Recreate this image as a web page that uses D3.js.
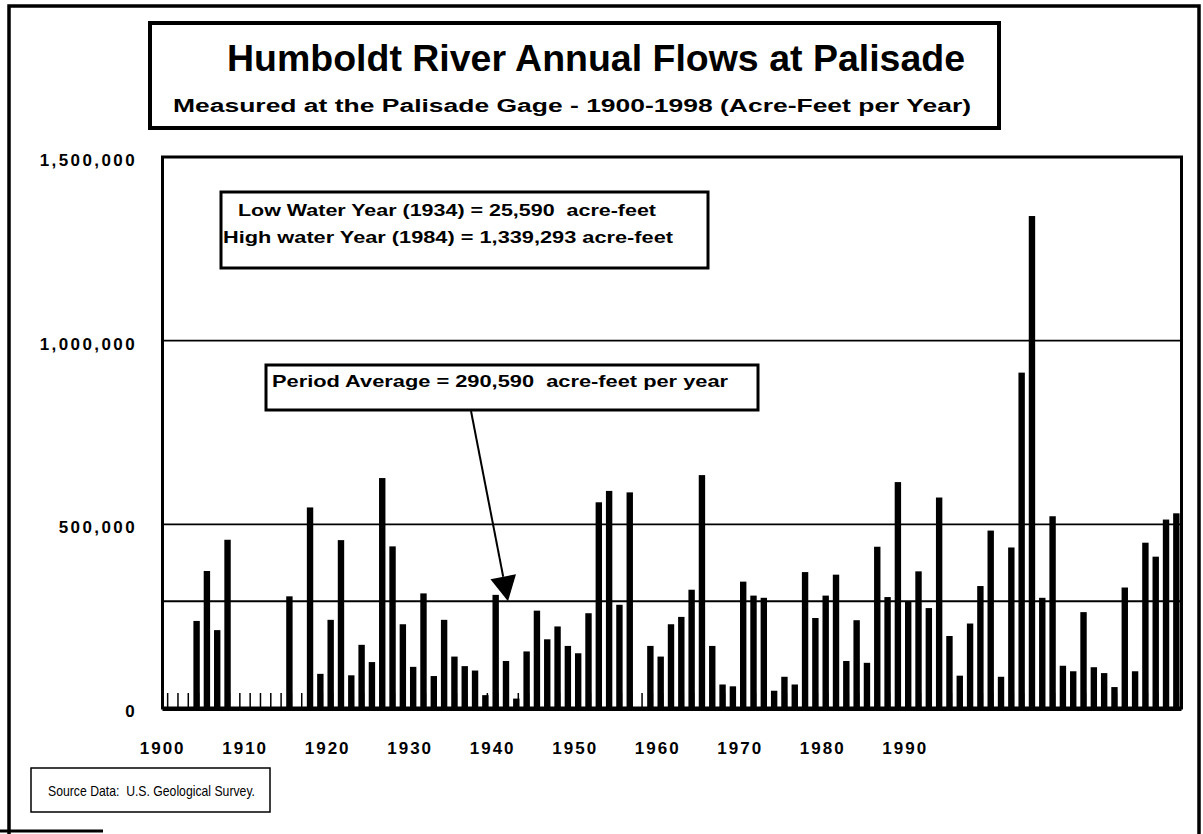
<!DOCTYPE html>
<html>
<head>
<meta charset="utf-8">
<script src="https://cdn.jsdelivr.net/npm/d3@7"></script>
<style>
  body { margin: 0; background: #fff; }
  svg { display: block; font-family: "Liberation Sans", Arial, sans-serif; }
  text { white-space: pre; }
</style>
</head>
<body>
<svg id="chart" width="1203" height="834"></svg>
<script>
// annual flow at Palisade gage, acre-feet (null = no record)
const years = d3.range(1900, 1999);
const flows = [
  null, null, null, 237000, 373000, 212000, 458000, null, null, null,
  null, null, 304000, null, 546000, 93000, 240000, 457000, 89000, 172000,
  125000, 626000, 440000, 228000, 112000, 312000, 87000, 240000, 140000, 114000,
  102000, 35000, 308000, 128000, 25590, 154000, 265000, 187000, 222000, 169000,
  149000, 258000, 560000, 591000, 281000, 587000, null, 169000, 140000, 228000,
  248000, 322000, 634000, 169000, 64000, 59000, 344000, 306000, 300000, 47000,
  85000, 64000, 370000, 245000, 306000, 363000, 128000, 239000, 123000, 439000,
  302000, 615000, 290000, 372000, 272000, 573000, 196000, 88000, 230000, 332000,
  483000, 85000, 437000, 913000, 1339293, 300000, 522000, 115000, 100000, 261000,
  111000, 95000, 57000, 328000, 100000, 450000, 412000, 513000, 530000
];
const avgFlow = 290590;
const flowTicks = [0, 500000, 1000000, 1500000];
const gridTicks = [500000, 1000000];
// the original axis prints a label every 8th category, captioned by decade
const yearLabels = [1900, 1910, 1920, 1930, 1940, 1950, 1960, 1970, 1980, 1990];
const labelEvery = 8;

const titleText = 'Humboldt River Annual Flows at Palisade';
const subtitleText = 'Measured at the Palisade Gage - 1900-1998 (Acre-Feet per Year)';
const extremesText = ['Low Water Year (1934) = 25,590  acre-feet', 'High water Year (1984) = 1,339,293 acre-feet'];
const averageText = 'Period Average = 290,590  acre-feet per year';
const sourceText = 'Source Data:  U.S. Geological Survey.';

const svg = d3.select('#chart');
const plot = { left: 162.5, right: 1181.5, top: 157, bottom: 708 };

const x = d3.scaleBand()
  .domain(years)
  .range([160.5, 1181.5])
  .paddingInner(0.38)
  .paddingOuter(0.19);
const y = d3.scaleLinear()
  .domain([0, 1500000])
  .range([plot.bottom, plot.top]);

// outer frame (bottom edge mostly cut off in the scan)
svg.append('path')
  .attr('d', 'M9,834 V6 H1199 V834')
  .attr('fill', 'none').attr('stroke', '#000').attr('stroke-width', 3.5);
svg.append('line')
  .attr('x1', 0).attr('x2', 103).attr('y1', 831).attr('y2', 831)
  .attr('stroke', '#000').attr('stroke-width', 3);

// title box
svg.append('rect')
  .attr('x', 150).attr('y', 23).attr('width', 849).attr('height', 105)
  .attr('fill', '#fff').attr('stroke', '#000').attr('stroke-width', 4);
svg.append('text')
  .attr('x', 596).attr('y', 71)
  .attr('text-anchor', 'middle')
  .attr('font-size', 37).attr('font-weight', 'bold')
  .attr('textLength', 738).attr('lengthAdjust', 'spacingAndGlyphs')
  .text(titleText);
svg.append('text')
  .attr('x', 173).attr('y', 112)
  .attr('font-size', 18).attr('font-weight', 'bold')
  .attr('textLength', 798).attr('lengthAdjust', 'spacingAndGlyphs')
  .text(subtitleText);

// gridlines and average line
svg.append('g')
  .selectAll('line')
  .data(gridTicks)
  .enter()
  .append('line')
  .attr('x1', plot.left).attr('x2', plot.right)
  .attr('y1', d => y(d)).attr('y2', d => y(d))
  .attr('stroke', '#000').attr('stroke-width', 1.6);
svg.append('line')
  .attr('x1', plot.left).attr('x2', plot.right)
  .attr('y1', y(avgFlow)).attr('y2', y(avgFlow))
  .attr('stroke', '#000').attr('stroke-width', 2);

// category ticks, drawn under the bars
svg.append('g')
  .attr('transform', `translate(2,${plot.bottom})`)
  .call(d3.axisBottom(x).tickSizeInner(-15).tickSizeOuter(0).tickFormat(''))
  .call(g => g.select('.domain').remove())
  .call(g => g.selectAll('.tick line').attr('stroke-width', 1.5));

// bars
svg.append('g')
  .selectAll('rect')
  .data(years.map((yr, i) => ({ year: yr, flow: flows[i] })).filter(d => d.flow !== null))
  .enter()
  .append('rect')
  .attr('x', d => x(d.year))
  .attr('y', d => y(d.flow))
  .attr('width', x.bandwidth())
  .attr('height', d => plot.bottom - y(d.flow))
  .attr('fill', '#000');

// plot frame and baseline
svg.append('rect')
  .attr('x', plot.left).attr('y', plot.top)
  .attr('width', plot.right - plot.left).attr('height', plot.bottom - plot.top)
  .attr('fill', 'none').attr('stroke', '#000').attr('stroke-width', 3);
svg.append('line')
  .attr('x1', plot.left).attr('x2', plot.right)
  .attr('y1', plot.bottom + 1).attr('y2', plot.bottom + 1)
  .attr('stroke', '#000').attr('stroke-width', 4);

// y axis labels
svg.append('g')
  .selectAll('text')
  .data(flowTicks)
  .enter()
  .append('text')
  .attr('x', 137)
  .attr('y', d => y(d) + 9)
  .attr('text-anchor', 'end')
  .attr('font-size', 17).attr('font-weight', 'bold')
  .attr('letter-spacing', 2.4)
  .text(d => d3.format(',')(d));

// x axis labels
svg.append('g')
  .selectAll('text')
  .data(yearLabels)
  .enter()
  .append('text')
  .attr('x', (d, i) => x(years[i * labelEvery]) + x.bandwidth() / 2 - 3)
  .attr('y', 754)
  .attr('text-anchor', 'middle')
  .attr('font-size', 17).attr('font-weight', 'bold')
  .attr('letter-spacing', 2)
  .text(d => d);

// low / high water box
svg.append('rect')
  .attr('x', 221).attr('y', 192).attr('width', 487).attr('height', 76)
  .attr('fill', '#fff').attr('stroke', '#000').attr('stroke-width', 3);
svg.append('g')
  .selectAll('text')
  .data(extremesText)
  .enter()
  .append('text')
  .attr('x', (d, i) => i === 0 ? 238 : 223)
  .attr('y', (d, i) => 216 + i * 27)
  .attr('font-size', 17).attr('font-weight', 'bold')
  .attr('textLength', (d, i) => i === 0 ? 418 : 450)
  .attr('lengthAdjust', 'spacingAndGlyphs')
  .text(d => d);

// period average box and arrow
svg.append('rect')
  .attr('x', 266).attr('y', 365).attr('width', 492).attr('height', 45)
  .attr('fill', '#fff').attr('stroke', '#000').attr('stroke-width', 3);
svg.append('text')
  .attr('x', 272).attr('y', 387)
  .attr('font-size', 17).attr('font-weight', 'bold')
  .attr('textLength', 456).attr('lengthAdjust', 'spacingAndGlyphs')
  .text(averageText);

const tip = [x(1933) + x.bandwidth() / 2 + 2, y(avgFlow)];
const tail = [471, 411];
const ang = Math.atan2(tip[1] - tail[1], tip[0] - tail[0]);
const headLen = 25, headHalf = 13;
const base = [tip[0] - headLen * Math.cos(ang), tip[1] - headLen * Math.sin(ang)];
svg.append('line')
  .attr('x1', tail[0]).attr('y1', tail[1])
  .attr('x2', base[0]).attr('y2', base[1])
  .attr('stroke', '#000').attr('stroke-width', 2);
svg.append('path')
  .attr('d', d3.line()([
    tip,
    [base[0] + headHalf * Math.sin(ang), base[1] - headHalf * Math.cos(ang)],
    [base[0] - headHalf * Math.sin(ang), base[1] + headHalf * Math.cos(ang)]
  ]) + 'Z')
  .attr('fill', '#000');

// source box
svg.append('rect')
  .attr('x', 31).attr('y', 768).attr('width', 239).attr('height', 44)
  .attr('fill', '#fff').attr('stroke', '#000').attr('stroke-width', 1.5);
svg.append('text')
  .attr('x', 48).attr('y', 796)
  .attr('font-size', 15)
  .attr('textLength', 207).attr('lengthAdjust', 'spacingAndGlyphs')
  .text(sourceText);
</script>
</body>
</html>
